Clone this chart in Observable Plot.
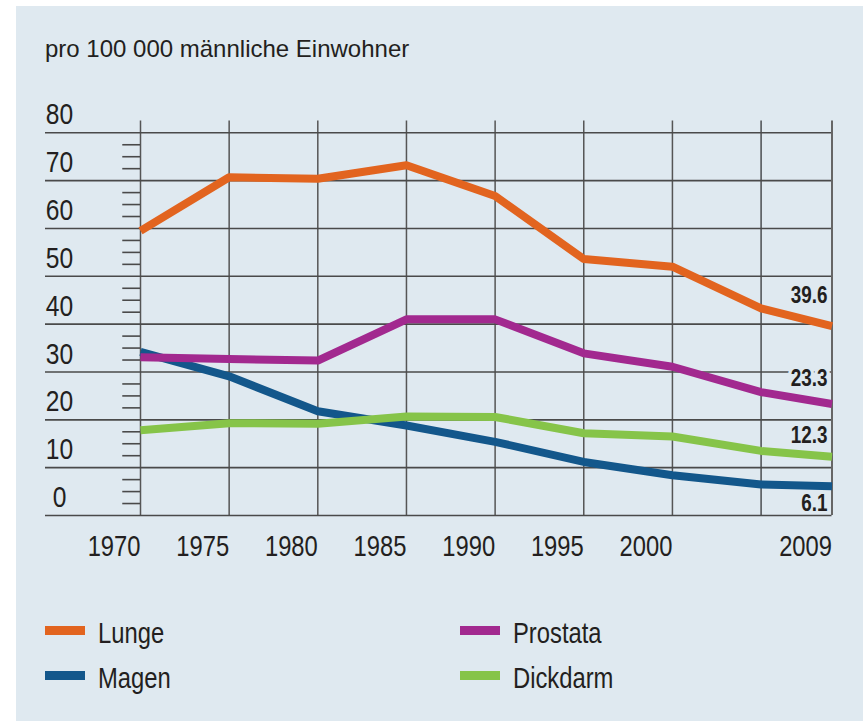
<!DOCTYPE html>
<html><head><meta charset="utf-8">
<script src="https://cdn.jsdelivr.net/npm/d3@7"></script>
<script src="https://cdn.jsdelivr.net/npm/@observablehq/plot@0.6"></script>
<style>
html,body{margin:0;padding:0;background:#fff;}
body{width:865px;height:721px;position:relative;overflow:hidden;}
#panel{position:absolute;left:16px;top:6px;width:847px;height:715px;background:#dfe9f0;}
#title{position:absolute;left:45px;top:34px;font-family:"Liberation Sans",Arial,sans-serif;font-size:24px;line-height:30px;color:#231f20;white-space:nowrap;}
#chart{position:absolute;left:0;top:100px;}
.leg{position:absolute;height:30px;line-height:30px;font-size:29px;font-family:"Liberation Sans",Arial,sans-serif;color:#231f20;white-space:nowrap;}
.sw{position:absolute;left:0;width:40px;height:9px;}
.lt{position:absolute;left:53px;top:0;transform:scaleX(0.82);transform-origin:0 0;}
</style>
</head>
<body>
<div id="panel"></div>
<div id="title">pro 100 000 männliche Einwohner</div>
<div id="chart"></div>
<div id="legend"></div>
<script>
// ---- data ----
const years = [1970, 1975, 1980, 1985, 1990, 1995, 2000, 2005, 2009];
const lunge    = [59.5, 70.7, 70.4, 73.2, 66.8, 53.6, 52.0, 43.3, 39.6];
const magen    = [34.2, 29.1, 21.8, 18.8, 15.4, 11.2, 8.4, 6.5, 6.1];
const prostata = [33.1, 32.7, 32.4, 41.0, 41.0, 33.9, 31.1, 25.8, 23.3];
const dickdarm = [17.8, 19.3, 19.2, 20.7, 20.6, 17.2, 16.5, 13.5, 12.3];
const seriesNames = ["Lunge", "Magen", "Prostata", "Dickdarm"];
const seriesValues = [lunge, magen, prostata, dickdarm];
const yTicks = [0, 10, 20, 30, 40, 50, 60, 70, 80];
const xTickLabels = [1970, 1975, 1980, 1985, 1990, 1995, 2000, 2009];
const gridYears = [1970, 1975, 1980, 1985, 1990, 1995, 2000];

// ---- styles ----
const colors = {Lunge: "#e2641f", Magen: "#13578b", Prostata: "#a2298f", Dickdarm: "#86c449"};
const bg = "#dfe9f0";
const ink = "#231f20";
const FONT = '"Liberation Sans",Arial,sans-serif';
const NARROW_SCALE = 0.82;
const drawOrder = ["Magen", "Dickdarm", "Prostata", "Lunge"];
const labelDy = {Lunge: -30, Prostata: -25, Dickdarm: -21, Magen: 17};
const minorTicks = d3.range(0, 80, 2.5).filter(v => v % 10 !== 0);

const rows = [];
seriesNames.forEach((s, k) => years.forEach((yr, i) => rows.push({series: s, year: yr, value: seriesValues[k][i]})));
const lastYear = years[years.length - 1];
const endLabels = seriesNames.map((s, k) => ({series: s, year: lastYear, value: seriesValues[k][seriesValues[k].length - 1]}));

const marks = [
  Plot.ruleX(gridYears, {stroke: "#555", strokeWidth: 1.5}),
  Plot.ruleX([2005], {stroke: "#000", strokeWidth: 1}),
  Plot.ruleY(yTicks, {stroke: "#4a4a4a", strokeWidth: 1.6}),
  Plot.ruleY(minorTicks, {y: d => d, x1: 1969, x2: 1970, stroke: "#4a4a4a", strokeWidth: 1.6}),
  Plot.axisY({ticks: yTicks, tickSize: 0, tickPadding: 0, textAnchor: "middle", dx: 14, dy: -18, fontSize: 30, label: null, tickFormat: d => String(d)}),
  Plot.axisX({ticks: xTickLabels, tickSize: 0, tickPadding: 20, textAnchor: "end", fontSize: 29, label: null, tickFormat: d => String(d)}),
];
endLabels.filter(d => labelDy[d.series] < 0).forEach(d => {
  marks.push(Plot.text([d], {x: "year", y: "value", text: e => e.value.toFixed(1), dy: labelDy[d.series], dx: -4.5,
    textAnchor: "end", fontWeight: "bold", fontSize: 23, fill: ink, stroke: bg, strokeWidth: 8, paintOrder: "stroke"}));
});
marks.push(Plot.ruleX([lastYear], {stroke: "#666", strokeWidth: 2}));
drawOrder.forEach(s => {
  marks.push(Plot.line(rows.filter(r => r.series === s), {x: "year", y: "value", stroke: colors[s], strokeWidth: 8, strokeLinejoin: "round", strokeLinecap: "butt"}));
});
endLabels.filter(d => labelDy[d.series] > 0).forEach(d => {
  marks.push(Plot.text([d], {x: "year", y: "value", text: e => e.value.toFixed(1), dy: labelDy[d.series], dx: -4.5,
    textAnchor: "end", fontWeight: "bold", fontSize: 23, fill: ink}));
});

const chart = Plot.plot({
  width: 865, height: 470,
  marginLeft: 45, marginRight: 33.5, marginTop: 20.5, marginBottom: 55,
  x: {domain: [1970, 2009], range: [140, 831.5]},
  y: {domain: [0, 80], range: [415, 32.3]},
  style: {background: "none", fontFamily: FONT, color: ink, overflow: "visible"},
  marks
});

// condensed look: squeeze every text horizontally about its anchor point
chart.querySelectorAll("text").forEach(t => {
  const tr = t.getAttribute("transform");
  if (tr) {
    t.setAttribute("transform", tr + ` scale(${NARROW_SCALE},1)`);
  } else {
    const x = +(t.getAttribute("x") || 0);
    t.setAttribute("transform", `translate(${x},0) scale(${NARROW_SCALE},1) translate(${-x},0)`);
  }
});
document.getElementById("chart").appendChild(chart);

// legend
const legendPos = {Lunge: [45, 618], Magen: [45, 663], Prostata: [460, 618], Dickdarm: [460, 663]};
const legend = document.getElementById("legend");
seriesNames.forEach(s => {
  const item = document.createElement("div");
  item.className = "leg";
  item.style.left = legendPos[s][0] + "px";
  item.style.top = legendPos[s][1] + "px";
  const sw = document.createElement("span");
  sw.className = "sw";
  sw.style.background = colors[s];
  sw.style.top = "7.5px";
  const t = document.createElement("span");
  t.className = "lt";
  t.textContent = s;
  item.appendChild(sw); item.appendChild(t);
  legend.appendChild(item);
});
</script>
</body></html>
